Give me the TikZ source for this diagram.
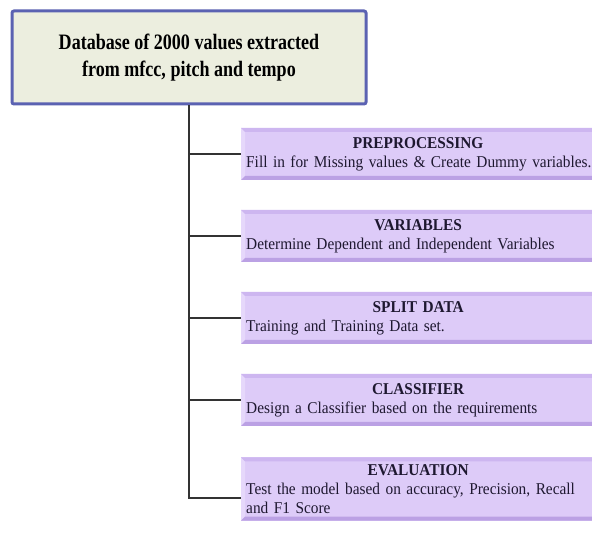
\documentclass[tikz,border=0pt]{standalone}
\usepackage{fontspec}
\setmainfont{Liberation Serif}
\newfontfamily\narrowserif[FakeStretch=0.82]{Liberation Serif}
\newfontfamily\stepserif[FakeStretch=0.93]{Liberation Serif}
\usetikzlibrary{trees}

\definecolor{dbfill}{HTML}{ECEEDF}
\definecolor{dbline}{HTML}{5B62B2}
\definecolor{stepfill}{HTML}{DDCBF8}
\definecolor{steptop}{HTML}{CDB6F0}
\definecolor{stepleft}{HTML}{E6D8FB}
\definecolor{stepbottom}{HTML}{BBA1E4}
\definecolor{steptext}{HTML}{1E1830}

\newcommand{\steplabel}[2]{\makebox[344pt][c]{\textbf{#1}}\par #2}

\begin{document}
\begin{tikzpicture}[x=1pt, y=-1pt,
    dbbox/.style={draw=dbline, line width=3pt, fill=dbfill, rounded corners=2pt,
      minimum width=354pt, minimum height=93pt, align=center,
      font=\narrowserif\fontsize{22}{27}\selectfont\bfseries},
    stepbox/.style={fill=stepfill, anchor=west, minimum height=52pt,
      text width=356pt, inner xsep=5pt, inner ysep=7pt, align=left,
      text=steptext, font=\stepserif\fontsize{16.5}{19}\selectfont,
      path picture={
        % bevelled rim: light left, medium top, dark bottom
        \fill[stepleft] (path picture bounding box.north west)
          -- ([xshift=4pt,yshift=-4pt]path picture bounding box.north west)
          -- ([xshift=4pt,yshift=4pt]path picture bounding box.south west)
          -- (path picture bounding box.south west) -- cycle;
        \fill[steptop] (path picture bounding box.north west)
          -- (path picture bounding box.north east)
          -- ([xshift=-4pt,yshift=-4pt]path picture bounding box.north east)
          -- ([xshift=4pt,yshift=-4pt]path picture bounding box.north west) -- cycle;
        \fill[stepbottom] (path picture bounding box.south west)
          -- (path picture bounding box.south east)
          -- ([xshift=-4pt,yshift=4pt]path picture bounding box.south east)
          -- ([xshift=4pt,yshift=4pt]path picture bounding box.south west) -- cycle;
      }},
    level distance=0pt, % children placed by the three points below
    edge from parent/.style={draw, line width=1.2pt, black!80}
   ]
    \clip (0,0) rectangle (592,534);
    \fill[white] (0,0) rectangle (592,534);
    \node[dbbox] (db) at (189,57.5)
      {Database of 2000 values extracted\\ from mfcc, pitch and tempo}
      [grow via three points={one child at (52,96.5) and
         two children at (52,96.5) and (52,178.5)},
       edge from parent path={(\tikzparentnode.south) |- (\tikzchildnode.west)}]
        child {node[stepbox] (pre) {\steplabel{PREPROCESSING}
            {Fill in for Missing values \& Create Dummy variables.}}}
        child {node[stepbox] (var) {\steplabel{VARIABLES}
            {Determine Dependent and Independent Variables}}}
        child {node[stepbox] (split) {\steplabel{SPLIT DATA}
            {Training and Training Data set.}}}
        child {node[stepbox] (clf) {\steplabel{CLASSIFIER}
            {Design a Classifier based on the requirements}}}
        child[yshift=-7pt,
          edge from parent path={(\tikzparentnode.south)
            |- ([yshift=-9pt]\tikzchildnode.west)}]
          {node[stepbox] (eval) {\steplabel{EVALUATION}
            {Test the model based on accuracy, Precision, Recall\\ and F1 Score}}}
    ;
  \end{tikzpicture}
\end{document}
